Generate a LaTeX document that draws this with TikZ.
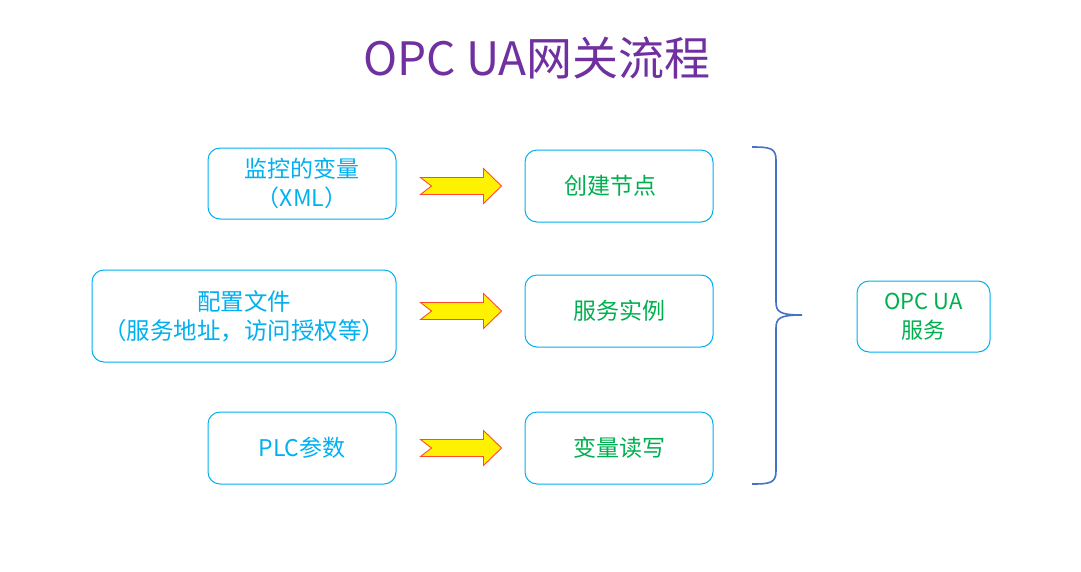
\documentclass[tikz,border=0pt]{standalone}
\usepackage{fontspec}
\setmainfont{Noto Sans CJK SC}
\usetikzlibrary{calc}
\definecolor{boxc}{HTML}{00B0F0}
\definecolor{greent}{HTML}{00B050}
\definecolor{titlec}{HTML}{7030A0}
\definecolor{bracec}{HTML}{4472C4}
\definecolor{arrowline}{HTML}{FF4B2B}
\begin{document}
\begin{tikzpicture}[x=1pt,y=-1pt,
  box/.style={draw=boxc, line width=1pt, rounded corners=12pt, align=center, inner sep=0pt, text=boxc, font=\fontsize{23}{29}\selectfont},
  gtext/.style={text=greent, align=center, inner sep=0pt, font=\fontsize{23}{29}\selectfont},
  blockarrow/.style={draw=arrowline, fill=yellow, line width=0.9pt, line join=miter},
  bracestyle/.style={draw=bracec, line width=1.6pt}]
\useasboundingbox (0,0) rectangle (1081,571);
\fill[white] (0,0) rectangle (1081,571);

\node[text=titlec, inner sep=0pt, font=\fontsize{46}{50}\selectfont] (title) at (537,58) {OPC UA网关流程};

\node[box, minimum width=188pt, minimum height=71pt] (b1) at (302,183.5) {监控的变量\\（XML）};
\node[box, minimum width=304pt, minimum height=92pt, font=\fontsize{23.5}{29}\selectfont] (b2) at (244,316) {配置文件\\（服务地址，访问授权等）};
\node[box, minimum width=188pt, minimum height=72pt] (b3) at (302,448) {PLC参数};

\node[box, minimum width=188pt, minimum height=72pt] (m1) at (619,186) {};
\node[box, minimum width=188pt, minimum height=72pt] (m2) at (619,311) {};
\node[box, minimum width=188pt, minimum height=72pt] (m3) at (619,448) {};
\node[gtext] (m1t) at ($(m1.center)+(-9,0)$) {创建节点};
\node[gtext] (m2t) at (m2.center) {服务实例};
\node[gtext] (m3t) at (m3.center) {变量读写};

\node[box, minimum width=133pt, minimum height=71pt, text=greent, font=\fontsize{22}{29}\selectfont] (opc) at (923.5,316.5) {OPC UA\\服务};

\coordinate (a1) at ($(b1.east |- m1.center)+(24,0)$);
\coordinate (a2) at ($(b2.east |- m2.center)+(24,0)$);
\coordinate (a3) at ($(b3.east |- m3.center)+(24,0)$);
\foreach \a in {a1,a2,a3}{
  \draw[blockarrow, shift={(\a)}] (0,-8.5) -- (63,-8.5) -- (63,-17.5) -- (81,0) -- (63,17.5) -- (63,8.5) -- (0,8.5) -- (11,0) -- cycle;
}

\draw[bracestyle] (752,147) .. controls (770,147) and (776,148) .. (776,160) -- (776,302)
  .. controls (776,312) and (780,315) .. (802,315)
  .. controls (780,315) and (776,318) .. (776,328) -- (776,471)
  .. controls (776,483) and (770,484) .. (752,484);
\end{tikzpicture}
\end{document}
